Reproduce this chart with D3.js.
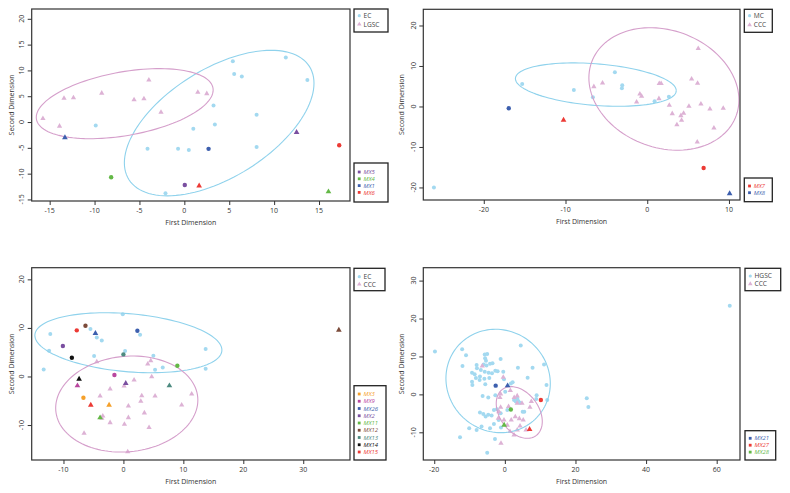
<!DOCTYPE html>
<html><head><meta charset="utf-8">
<script src="https://cdn.jsdelivr.net/npm/d3@7"></script>
<style>body{margin:0;background:#fff;} svg{display:block;} text{font-family:"Open Sans",Lato,sans-serif;}</style>
</head><body><svg id="c" width="790" height="493"></svg>
<script>
// ---------- Panel A : EC vs LGSC ----------
const groupNamesA = ["EC", "LGSC"];
const ecA = [[-9.87,-0.65],[-4.1,-5.2],[-0.7,-5.2],[0.5,-5.4],[-2.1,-13.8],[1.0,-1.3],[3.25,3.2],[3.4,-0.5],[5.4,11.8],[5.55,9.3],[6.4,8.8],[8.05,1.4],[8.05,-4.85],[11.3,12.5],[13.7,8.15]];
const lgscA = [[-15.75,0.7],[-13.9,-0.8],[-13.4,4.6],[-12.35,4.7],[-9.2,5.6],[-5.6,4.3],[-4.5,4.5],[-3.95,8.15],[-2.6,1.9],[1.5,5.75],[2.5,5.5]];
const mxLabelsA = ["MX5","MX4","MX1","MX6"];
const mxCircleA = [[0.05,-12.2],[-8.15,-10.7],[2.7,-5.2],[17.25,-4.5]];
const mxTriangleA = [[12.5,-2.0],[16.05,-13.5],[-13.3,-3.0],[1.65,-12.35]];
// ellipse: [centre x, centre y, half-extent x, half-extent y, correlation]
const ellipseA1 = [3.88,-0.2,10.56,14.1,0.547];
const ellipseA2 = [-6.64,3.56,9.85,6.79,0.39];
const xTicksA = [-15,-10,-5,0,5,10,15];
const yTicksA = [-15,-10,-5,0,5,10,15,20];

// ---------- Panel B : MC vs CCC ----------
const groupNamesB = ["MC", "CCC"];
const mcB = [[-26.1,-20.0],[-15.3,5.57],[-8.98,4.08],[-6.65,2.27],[-3.96,8.45],[-3.06,5.24],[-3.1,4.5],[0.9,1.28],[2.65,2.43]];
const cccB = [[-6.53,4.9],[-5.47,5.8],[-1.3,1.1],[-0.9,3.1],[-0.69,2.5],[1.47,5.65],[1.7,5.65],[1.43,1.94],[2.7,0.29],[3.06,-1.77],[3.63,-4.5],[4.12,-2.27],[4.2,-3.4],[4.45,-1.69],[5.1,0.04],[5.43,6.8],[6.16,5.73],[6.24,14.3],[6.12,-8.78],[6.57,0.62],[7.67,-0.62],[8.16,-5.3],[9.3,-0.45]];
const mxLabelsB = ["MX7","MX8"];
const mxCircleB = [[6.9,-15.2],[-16.94,-0.45]];
const mxTriangleB = [[-10.24,-3.34],[10.08,-21.5]];
const ellipseB1 = [-6.29,5.4,9.84,5.36,-0.276];
const ellipseB2 = [2.04,4.33,9.18,15.13,-0.18];
const xTicksB = [-20,-10,0,10];
const yTicksB = [-20,-10,0,10,20];

// ---------- Panel C : EC vs CCC ----------
const groupNamesC = ["EC", "CCC"];
const ecC = [[-12.2,8.77],[-12.4,5.3],[-13.3,1.46],[-5.5,9.77],[-4.44,8.05],[-3.61,7.43],[-0.11,12.8],[2.78,8.6],[-4.89,4.2],[0.28,5.24],[5.0,4.28],[5.28,1.39],[6.56,1.87],[13.72,5.65],[13.72,1.6]];
const cccC = [[-4.44,3.04],[4.06,2.56],[4.56,3.25],[1.78,-0.73],[4.72,-0.05],[0.11,-1.98],[-2.22,-2.59],[-3.89,-4.03],[0.83,-6.09],[3.06,-3.96],[5.28,-4.03],[2.9,-5.1],[-3.44,-8.15],[-3.6,-8.6],[-2.22,-9.5],[0.17,-9.85],[0.83,-8.48],[3.5,-7.5],[4.28,-10.5],[9.72,-5.88],[11.39,-3.6],[-6.56,-11.7],[0.72,-15.5]];
const mxLabelsC = ["MX3","MX9","MX26","MX2","MX11","MX12","MX13","MX14","MX15"];
const mxCircleC = [[-6.67,-4.37],[-1.5,0.3],[2.33,9.43],[-10.1,6.27],[9.0,2.2],[-6.33,10.45],[0.0,4.55],[-8.6,3.87],[-7.78,9.5]];
const mxTriangleC = [[-2.39,-5.88],[-7.67,-1.9],[-4.67,8.88],[0.39,-1.42],[-3.89,-8.49],[35.94,9.56],[7.67,-1.9],[-7.39,-0.52],[-5.44,-5.88]];
const ellipseC1 = [0.83,6.95,15.6,6.18,-0.244];
const ellipseC2 = [0.56,-5.68,11.86,9.89,0.083];
const xTicksC = [-10,0,10,20,30];
const yTicksC = [-10,0,10,20];

// ---------- Panel D : HGSC vs CCC ----------
const groupNamesD = ["HGSC", "CCC"];
const hgscD = [[-19.8,11.3],[-12.1,11.9],[-11.0,10.3],[-5.7,10.5],[-5.0,10.65],[4.5,12.9],
[-5.6,9.5],[-5.35,8.9],[-1.2,9.3],[-12.0,7.5],[-8.0,7.75],[-7.9,6.9],[-6.0,7.9],[-5.2,7.6],[-4.2,8.1],[-3.5,8.2],[3.7,7.05],[7.85,7.05],[11.1,7.9],
[-9.3,5.7],[-8.55,5.3],[-6.8,6.4],[-5.7,6.0],[-4.6,5.7],[-3.65,5.55],[-2.7,6.25],[-2.05,6.1],[-0.45,6.0],[-8.2,4.3],[-7.05,4.7],[-5.8,4.15],[-4.4,4.3],[-9.3,3.35],[-9.2,2.5],[-7.15,3.8],[-5.55,2.65],[6.45,4.4],[11.8,2.5],[-0.25,4.0],[1.7,2.9],[2.2,3.2],
[-6.3,-0.4],[-4.7,-0.8],[-2.7,-0.25],[0.1,0.7],[3.1,-1.9],[3.8,-1.75],[4.3,-2.2],[3.5,-1.1],[2.6,-1.5],[9.0,-0.25],[8.9,-1.2],[12.0,-1.5],
[-3.1,-4.1],[-2.25,-3.95],[-6.1,-5.15],[-4.7,-5.35],[-3.75,-5.6],[-5.45,-5.85],[-7.05,-4.8],[5.05,-4.55],[5.5,-4.55],[0.7,-4.1],[-1.2,-5.0],[-1.75,-6.75],
[-6.6,-8.5],[-4.2,-8.95],[-3.1,-7.8],[-1.1,-8.7],[-10.1,-8.95],[-8.0,-9.4],[-12.7,-11.3],[-2.8,-11.75],[-5.0,-15.4],
[63.7,23.4],[23.2,-1.0],[23.65,-3.3]];
const cccD = [[-6.4,7.5],[-0.45,4.5],[-1.2,0.1],[-1.4,-0.8],[1.55,1.0],[2.65,-0.8],[3.5,-0.4],[3.5,-2.35],[4.85,-2.35],[7.5,-1.9],[7.1,-3.4],[-1.2,-3.4],[1.05,-3.2],[-1.7,-4.55],[-1.85,-6.3],[-0.25,-6.75],[1.8,-6.75],[2.95,-5.9],[4.1,-6.4],[5.2,-6.75],[4.3,-8.35],[6.0,-9.4],[1.45,-9.8],[2.6,-10.7],[3.5,-9.4],[-1.1,-12.9],[0.7,-8.1]];
const mxLabelsD = ["MX21","MX27","MX28"];
const mxCircleD = [[-2.6,2.3],[10.2,-1.5],[1.7,-4.0]];
const mxTriangleD = [[0.78,2.3],[7.0,-9.2],[-0.2,-8.1]];
const ellipseD1 = [-1.91,3.54,14.78,13.63,-0.05];
const ellipseD2 = [4.08,-4.77,6.52,6.81,-0.35];
const xTicksD = [-20,0,20,40,60];
const yTicksD = [-10,0,10,20,30];

// ---------- styles ----------
const BLUE_PT = "#a3d9f0", BLUE_LN = "#8fd2ec", PINK_PT = "#ddb2d5", PINK_LN = "#d59fcb";
const mxColorsA = ["#7a4fa0","#63b846","#3d5fae","#ec3a35"];
const mxColorsB = ["#ec3a35","#3d5fae"];
const mxColorsC = ["#f5a02a","#b9479f","#3d5fae","#7a4fa0","#63b846","#7b4b3a","#4d8a80","#111111","#ec3a35"];
const mxColorsD = ["#3d5fae","#ec3a35","#63b846"];

const svg = d3.select("#c");

function drawPanel(p) {
  const g = svg.append("g");
  const x = d3.scaleLinear().domain(p.xDomain).range([p.left, p.right]);
  const y = d3.scaleLinear().domain(p.yDomain).range([p.bottom, p.top]);

  g.selectAll(null).data(p.g1).join("circle")
    .attr("cx", d => x(d[0])).attr("cy", d => y(d[1])).attr("r", 2).attr("fill", BLUE_PT);
  g.selectAll(null).data(p.g2).join("path")
    .attr("d", d3.symbol(d3.symbolTriangle).size(12))
    .attr("transform", d => `translate(${x(d[0])},${y(d[1])})`).attr("fill", PINK_PT);

  const line = d3.line().x(d => x(d[0])).y(d => y(d[1]));
  [[p.e1, BLUE_LN],[p.e2, PINK_LN]].forEach(([e, col]) => {
    const s = Math.sqrt(1 - e[4]*e[4]);
    const pts = d3.range(0, 361, 3).map(k => {
      const t = k*Math.PI/180;
      return [e[0] + e[2]*Math.cos(t), e[1] + e[3]*(e[4]*Math.cos(t) + s*Math.sin(t))];
    });
    g.append("path").attr("d", line(pts)).attr("fill","none").attr("stroke", col).attr("stroke-width", 1.1);
  });

  g.selectAll(null).data(p.mxC).join("circle")
    .attr("cx", d => x(d[0])).attr("cy", d => y(d[1])).attr("r", 2.2)
    .attr("fill", (d,i) => p.mxCol[i]);
  g.selectAll(null).data(p.mxT).join("path")
    .attr("d", d3.symbol(d3.symbolTriangle).size(14))
    .attr("transform", d => `translate(${x(d[0])},${y(d[1])})`)
    .attr("fill", (d,i) => p.mxCol[i]);

  g.append("rect").attr("x", p.left).attr("y", p.top).attr("width", p.right-p.left).attr("height", p.bottom-p.top)
    .attr("fill","none").attr("stroke","#333").attr("stroke-width",1.2);

  const ax = g.append("g").attr("transform", `translate(0,${p.bottom})`)
    .call(d3.axisBottom(x).tickValues(p.xTicks).tickSize(4).tickFormat(""));
  const ay = g.append("g").attr("transform", `translate(${p.left},0)`)
    .call(d3.axisLeft(y).tickValues(p.yTicks).tickSize(4).tickFormat(""));
  [ax, ay].forEach(a => { a.select(".domain").remove(); a.selectAll("line").attr("stroke","#333").attr("stroke-width",1); });

  g.selectAll(null).data(p.xTicks).join("text")
    .attr("x", d => x(d)).attr("y", p.bottom + 12.3).attr("text-anchor","middle")
    .attr("font-size", 7).attr("fill","#333").text(d => d);
  g.selectAll(null).data(p.yTicks).join("text")
    .attr("transform", d => `translate(${p.left - 7.5},${y(d)}) rotate(-90)`).attr("text-anchor","middle")
    .attr("font-size", 7).attr("fill","#333").text(d => d);

  g.append("text").attr("x", (p.left+p.right)/2).attr("y", p.bottom + 24)
    .attr("text-anchor","middle").attr("font-size",7).attr("fill","#333").text("First Dimension");
  g.append("text").attr("transform", `translate(${p.ylabX},${(p.top+p.bottom)/2}) rotate(-90)`)
    .attr("text-anchor","middle").attr("font-size",7).attr("fill","#333").text("Second Dimension");

  const L1 = p.leg1;
  g.append("rect").attr("x", L1[0]).attr("y", L1[1]).attr("width", L1[2]).attr("height", L1[3])
    .attr("fill","#fff").attr("stroke","#222").attr("stroke-width",1.3);
  p.names.forEach((n, i) => {
    const yy = L1[4] + i*L1[5];
    if (i === 0) g.append("circle").attr("cx", L1[0]+5.3).attr("cy", yy).attr("r",1.6).attr("fill", BLUE_PT);
    else g.append("path").attr("d", d3.symbol(d3.symbolTriangle).size(9)).attr("transform",`translate(${L1[0]+5.3},${yy})`).attr("fill", PINK_PT);
    g.append("text").attr("x", L1[0]+9.5).attr("y", yy+2.3).attr("font-size",6.6).attr("fill","#444").text(n);
  });
  const L2 = p.leg2;
  g.append("rect").attr("x", L2[0]).attr("y", L2[1]).attr("width", L2[2]).attr("height", L2[3])
    .attr("fill","#fff").attr("stroke","#222").attr("stroke-width",1.3);
  p.mxLab.forEach((n, i) => {
    const yy = L2[4] + i*L2[5];
    g.append("rect").attr("x", L2[0]+3.8).attr("y", yy-1.4).attr("width",2.8).attr("height",2.8).attr("fill", p.mxCol[i]);
    g.append("text").attr("x", L2[0]+9.5).attr("y", yy+2.1).attr("font-size",5.9).attr("font-style","italic")
      .attr("fill", p.mxCol[i]).text(n);
  });
}

drawPanel({left:31.7,right:350,top:9,bottom:201,xDomain:[-17.0,18.45],yDomain:[-15.3,21.9],
  xTicks:xTicksA,yTicks:yTicksA,g1:ecA,g2:lgscA,e1:ellipseA1,e2:ellipseA2,
  mxC:mxCircleA,mxT:mxTriangleA,mxCol:mxColorsA,mxLab:mxLabelsA,names:groupNamesA,ylabX:14.2,
  leg1:[354,9,34,23,15.7,8.6],leg2:[354,163,34,39,172,6.8]});
drawPanel({left:423.3,right:740,top:9.3,bottom:200,xDomain:[-27.4,11.35],yDomain:[-23.1,24.0],
  xTicks:xTicksB,yTicks:yTicksB,g1:mcB,g2:cccB,e1:ellipseB1,e2:ellipseB2,
  mxC:mxCircleB,mxT:mxTriangleB,mxCol:mxColorsB,mxLab:mxLabelsB,names:groupNamesB,ylabX:403.5,
  leg1:[744.3,9.3,28,23,15.7,9.3],leg2:[744.3,178,28,23.7,186,6.7]});
drawPanel({left:31.7,right:350,top:267.7,bottom:460,xDomain:[-15.3,37.8],yDomain:[-17.2,22.4],
  xTicks:xTicksC,yTicks:yTicksC,g1:ecC,g2:cccC,e1:ellipseC1,e2:ellipseC2,
  mxC:mxCircleC,mxT:mxTriangleC,mxCol:mxColorsC,mxLab:mxLabelsC,names:groupNamesC,ylabX:14.2,
  leg1:[354,268.3,31,22.4,276.7,7.6],leg2:[354,385.7,32,74.3,394,7.25]});
drawPanel({left:423.3,right:740,top:267.7,bottom:460,xDomain:[-23.1,66.6],yDomain:[-17.3,33.4],
  xTicks:xTicksD,yTicks:yTicksD,g1:hgscD,g2:cccD,e1:ellipseD1,e2:ellipseD2,
  mxC:mxCircleD,mxT:mxTriangleD,mxCol:mxColorsD,mxLab:mxLabelsD,names:groupNamesD,ylabX:404.2,
  leg1:[745,268.3,35.7,22.4,276,8],leg2:[745,430.7,30.7,29.3,438.3,6.9]});
</script></body></html>
